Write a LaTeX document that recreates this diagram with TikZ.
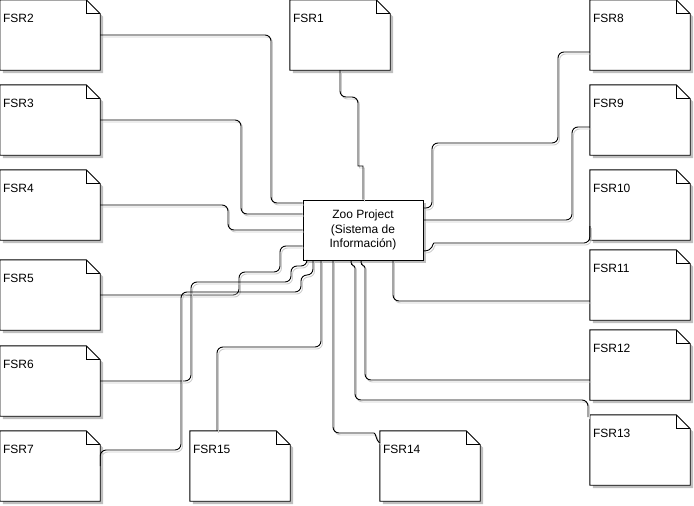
\documentclass[tikz,border=0pt]{standalone}
\usepackage{fontspec}
\setmainfont{Liberation Sans}
\usetikzlibrary{calc, shadows}
\tikzset{
  note/.style    ={minimum width=100pt, minimum height=70pt, inner sep=0pt},
  noteline/.style={draw=black, fill=white, line width=0.9pt,
                   drop shadow={shadow xshift=3pt, shadow yshift=-3pt, fill=black!25, opacity=1}},
  nlbl/.style    ={font=\fontsize{12pt}{14pt}\selectfont, anchor=base west, inner sep=0pt},
  sysbox/.style  ={draw, fill=white, line width=0.9pt, minimum width=120pt, minimum height=60pt,
                   align=center, font=\fontsize{12pt}{14.5pt}\selectfont,
                   drop shadow={shadow xshift=3pt, shadow yshift=-3pt, fill=black!25, opacity=1}},
  link/.style    ={draw, line width=0.9pt, rounded corners=6pt,
                   preaction={draw=black!20, line width=0.9pt, transform canvas={xshift=1.5pt, yshift=-2pt}}},
}

\begin{document}
\begin{tikzpicture}[x=1pt, y=-1pt]
  \useasboundingbox (0,0) rectangle (694,506);

  % requirement notes (top-left corners)
  \foreach \i/\x/\y in {1/290/0, 2/0/0, 3/0/85, 4/0/170, 5/0/260, 6/0/346, 7/0/431,
                        8/590/0, 9/590/85, 10/590/170, 11/590/250, 12/590/330, 13/590/415,
                        14/380/431, 15/190/431}{
    \node[note] (fsr\i) at (\x+50,\y+35) {};
    \draw[noteline] (fsr\i.north west) -- ([xshift=-14pt]fsr\i.north east)
      -- ([yshift=-14pt]fsr\i.north east) -- (fsr\i.south east) -- (fsr\i.south west) -- cycle;
    \draw[line width=0.9pt] ([xshift=-14pt]fsr\i.north east) |- ([yshift=-14pt]fsr\i.north east);
    \node[nlbl] at ([shift={(3pt,-23pt)}]fsr\i.north west) {FSR\i};
  }

  % the system
  \node[sysbox] (zoo) at (363,230) {Zoo Project\\(Sistema de\\Información)};

  % top
  \draw[link] (fsr1.south) |- (358,97) -- (358,160) .. controls (358,166) and (363,166) .. (363,172) -- (zoo.north);

  % left column
  \draw[link] (fsr2.east) -| (271,203) -- (zoo.west |- 0,203);
  \draw[link] (fsr3.east) -| (241,214) -- (zoo.west |- 0,214);
  \draw[link] (fsr4.east) -| (228,230) -- (zoo.west);
  \draw[link] (fsr5.east) -| (239,272) -| (280,246) -- (zoo.west |- 0,246);
  \draw[link] (fsr6.east) -| (191,282) -| (291,266) -| (zoo.south -| 307,0);
  \draw[link] (fsr7.east) |- (181,450) |- (301,292) |- (313,275) -- (zoo.south -| 313,0);

  % bottom
  \draw[link] (zoo.south -| 321,0) |- (217,347) -- (fsr15.north -| 217,0);
  \draw[link] (zoo.south -| 333,0) |- (368,433) .. controls (376,433) and (376,441) .. (fsr14.west |- 0,443);

  % right column
  \draw[link] (fsr8.west |- 0,52) -| (558,143) -| (432,208) -- (zoo.east |- 0,208);
  \draw[link] (fsr9.west |- 0,127) -| (572,220) -- (zoo.east |- 0,220);
  \draw[link] (fsr10.west |- 0,226) |- (440,243) .. controls (432,243) and (434,251) .. (zoo.east |- 0,251);
  \draw[link] (zoo.south -| 393,0) |- (fsr11.west |- 0,301);
  \draw[link] (zoo.south -| 361,0) .. controls (361,268) and (365,264) .. (365,274) |- (fsr12.west |- 0,380);
  \draw[link] (zoo.south -| 351,0) .. controls (351,268) and (355,264) .. (355,274) |- (588,400) -- (588,417);
\end{tikzpicture}
\end{document}
